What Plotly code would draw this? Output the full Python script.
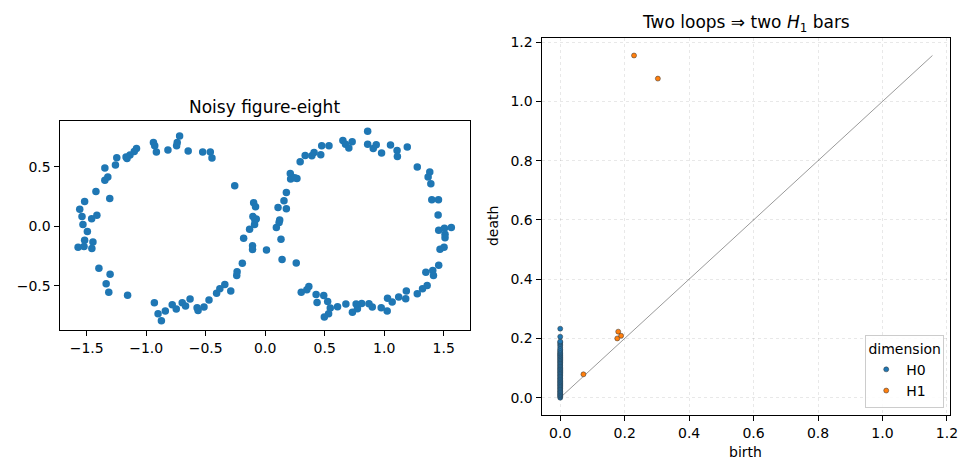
import plotly.graph_objects as go

# ---------------- data ----------------
# Noisy figure-eight point cloud
left_x = [-0.719, -0.939, -0.928, -0.739, -0.744, -0.914, -0.817, -0.647, -0.525, -0.461,
          -0.447, -1.081, -1.100, -1.136, -1.161, -1.169, -1.247, -1.258, -1.347, -1.322,
          -1.347, -1.422, -1.306, -1.517, -1.558, -1.539, -1.458, -1.414, -1.531, -1.494,
          -1.517, -1.447, -1.572, -1.522, -1.456, -1.397, -1.303, -1.336, -1.314, -1.156,
          -0.931, -0.900, -0.872, -0.839, -0.781, -0.747, -0.697, -0.669, -0.631, -0.572,
          -0.564, -0.514, -0.472, -0.408, -0.381, -0.339, -0.289, -0.239, -0.236, -0.192,
          -0.106, -0.106, -0.181, -0.131, -0.089, -0.086, -0.075, -0.103, -0.097, -0.081,
          -0.256]
left_y = [0.758, 0.703, 0.675, 0.703, 0.675, 0.622, 0.639, 0.631, 0.622, 0.622,
          0.572, 0.653, 0.628, 0.597, 0.569, 0.581, 0.575, 0.514, 0.489, 0.414,
          0.386, 0.292, 0.233, 0.208, 0.142, 0.081, 0.064, 0.092, 0.014, -0.044,
          -0.117, -0.133, -0.175, -0.169, -0.186, -0.353, -0.403, -0.483, -0.553, -0.578,
          -0.642, -0.733, -0.792, -0.711, -0.658, -0.694, -0.642, -0.669, -0.611, -0.683,
          -0.706, -0.678, -0.619, -0.561, -0.525, -0.489, -0.544, -0.414, -0.381, -0.311,
          -0.164, -0.194, -0.100, -0.025, 0.014, 0.050, 0.061, 0.081, 0.197, 0.164,
          0.339]
right_x = [0.861, 0.653, 0.675, 0.703, 0.731, 0.861, 0.908, 0.933, 0.978, 1.053,
           1.108, 1.111, 1.194, 1.278, 1.383, 1.369, 1.392, 1.400, 1.456, 1.453,
           1.458, 1.506, 1.564, 1.511, 1.511, 1.469, 1.503, 1.458, 1.350, 1.408,
           1.414, 1.361, 1.322, 1.278, 1.186, 1.181, 1.122, 1.067, 1.028, 1.025,
           0.975, 0.900, 0.872, 0.811, 0.775, 0.764, 0.733, 0.678, 0.608, 0.547,
           0.533, 0.497, 0.525, 0.492, 0.436, 0.428, 0.367, 0.350, 0.303, 0.261,
           0.142, 0.011, 0.133, 0.094, 0.117, 0.122, 0.108, 0.178, 0.158, 0.178,
           0.211, 0.214, 0.267, 0.247, 0.294, 0.336, 0.392, 0.411, 0.467, 0.475,
           0.536]
right_y = [0.797, 0.719, 0.689, 0.656, 0.708, 0.689, 0.653, 0.683, 0.614, 0.681,
           0.636, 0.586, 0.664, 0.497, 0.456, 0.414, 0.356, 0.222, 0.222, 0.094,
           -0.033, -0.017, -0.011, -0.067, -0.097, -0.192, -0.175, -0.328, -0.386, -0.372,
           -0.414, -0.497, -0.525, -0.567, -0.544, -0.608, -0.594, -0.636, -0.603, -0.711,
           -0.683, -0.678, -0.650, -0.647, -0.692, -0.653, -0.722, -0.653, -0.675, -0.686,
           -0.733, -0.761, -0.631, -0.581, -0.639, -0.572, -0.506, -0.533, -0.553, -0.308,
           -0.278, -0.200, -0.108, -0.011, 0.031, 0.053, 0.158, 0.147, 0.214, 0.283,
           0.442, 0.397, 0.400, 0.406, 0.542, 0.594, 0.592, 0.619, 0.600, 0.675,
           0.675]

# Persistence diagram
h0_death = [0.000, 0.004, 0.008, 0.011, 0.015, 0.019, 0.022, 0.026, 0.030, 0.033,
            0.037, 0.041, 0.044, 0.048, 0.052, 0.055, 0.059, 0.063, 0.066, 0.070,
            0.074, 0.077, 0.081, 0.085, 0.088, 0.092, 0.096, 0.099, 0.103, 0.107,
            0.110, 0.114, 0.118, 0.121, 0.125, 0.129, 0.132, 0.136, 0.140, 0.143,
            0.147, 0.150, 0.154, 0.158, 0.162, 0.168, 0.175, 0.181, 0.186, 0.190,
            0.206, 0.233]
h0_birth = [0.0] * len(h0_death)
h1_birth = [0.229, 0.303, 0.180, 0.177, 0.189, 0.072]
h1_death = [1.155, 1.077, 0.223, 0.200, 0.209, 0.079]

x_ticks_left = [-1.5, -1.0, -0.5, 0.0, 0.5, 1.0, 1.5]
y_ticks_left = [-0.5, 0.0, 0.5]
ticks_right = [0.0, 0.2, 0.4, 0.6, 0.8, 1.0, 1.2]

# ---------------- figure ----------------
W, H = 978, 473
FONT = "DejaVu Sans"
BLUE = "#1f77b4"
ORANGE = "#ff7f0e"

fig = go.Figure()

fig.add_trace(go.Scatter(
    x=left_x + right_x, y=left_y + right_y, mode="markers",
    marker=dict(color=BLUE, size=7.5, line=dict(width=0)),
    xaxis="x", yaxis="y", showlegend=False, hoverinfo="skip"))

dmax = max(h0_death + h1_death)
fig.add_trace(go.Scatter(
    x=[0, dmax], y=[0, dmax], mode="lines",
    line=dict(color="rgba(0,0,0,0.4)", width=1),
    xaxis="x2", yaxis="y2", showlegend=False, hoverinfo="skip"))

fig.add_trace(go.Scatter(
    x=h0_birth, y=h0_death, mode="markers", name="H0",
    marker=dict(color=BLUE, size=5, line=dict(width=0.5, color="#333333")),
    xaxis="x2", yaxis="y2"))
fig.add_trace(go.Scatter(
    x=h1_birth, y=h1_death, mode="markers", name="H1",
    marker=dict(color=ORANGE, size=5, line=dict(width=0.5, color="#333333")),
    xaxis="x2", yaxis="y2"))

def px_x(p):
    return p / W

def px_y(p):
    return 1 - p / H

axis_common = dict(
    showline=True, linecolor="black", linewidth=1, mirror=True,
    ticks="outside", ticklen=5, tickwidth=1, tickcolor="black",
    tickfont=dict(family=FONT, size=14, color="black"),
    zeroline=False,
)

GRID = dict(showgrid=True, gridcolor="rgba(0,0,0,0.09)", griddash="dot", gridwidth=1)

fig.update_layout(
    width=W, height=H,
    margin=dict(l=0, r=0, t=0, b=0),
    paper_bgcolor="white", plot_bgcolor="white",
    font=dict(family=FONT, color="black"),
    xaxis=dict(domain=[px_x(60), px_x(474)], range=[-1.728, 1.722],
               tickvals=x_ticks_left, tickformat=".1f", showgrid=False,
               anchor="y", **axis_common),
    yaxis=dict(domain=[px_y(329), px_y(118)], range=[-0.872, 0.883],
               tickvals=y_ticks_left, tickformat=".1f", showgrid=False,
               anchor="x", **axis_common),
    xaxis2=dict(domain=[px_x(546), px_x(958)], range=[-0.058, 1.210],
                tickvals=ticks_right, tickformat=".1f",
                anchor="y2", **GRID, **axis_common),
    yaxis2=dict(domain=[px_y(415), px_y(34)], range=[-0.060, 1.215],
                tickvals=ticks_right, tickformat=".1f",
                anchor="x2", **GRID, **axis_common),
    legend=dict(
        title=dict(text="dimension", side="top center",
                   font=dict(family=FONT, size=14, color="black")),
        font=dict(family=FONT, size=14, color="black"),
        x=px_x(952), y=px_y(407), xanchor="right", yanchor="bottom",
        bgcolor="rgba(255,255,255,0.85)", bordercolor="#cccccc", borderwidth=1,
        itemsizing="trace", tracegroupgap=0,
    ),
    annotations=[
        dict(text="Noisy figure-eight", x=px_x(267), y=px_y(104), xref="paper", yref="paper",
             xanchor="center", yanchor="middle", showarrow=False,
             font=dict(family=FONT, size=17, color="black")),
        dict(text="Two loops \u21d2 two <i>H</i><sub>1</sub> bars", x=px_x(752), y=px_y(20),
             xref="paper", yref="paper", xanchor="center", yanchor="middle", showarrow=False,
             font=dict(family=FONT, size=17, color="black")),
        dict(text="birth", x=px_x(752), y=px_y(452), xref="paper", yref="paper",
             xanchor="center", yanchor="middle", showarrow=False,
             font=dict(family=FONT, size=14, color="black")),
        dict(text="death", x=px_x(497), y=px_y(224), xref="paper", yref="paper",
             xanchor="center", yanchor="middle", showarrow=False, textangle=-90,
             font=dict(family=FONT, size=14, color="black")),
    ],
)

fig.write_html("out.html")
